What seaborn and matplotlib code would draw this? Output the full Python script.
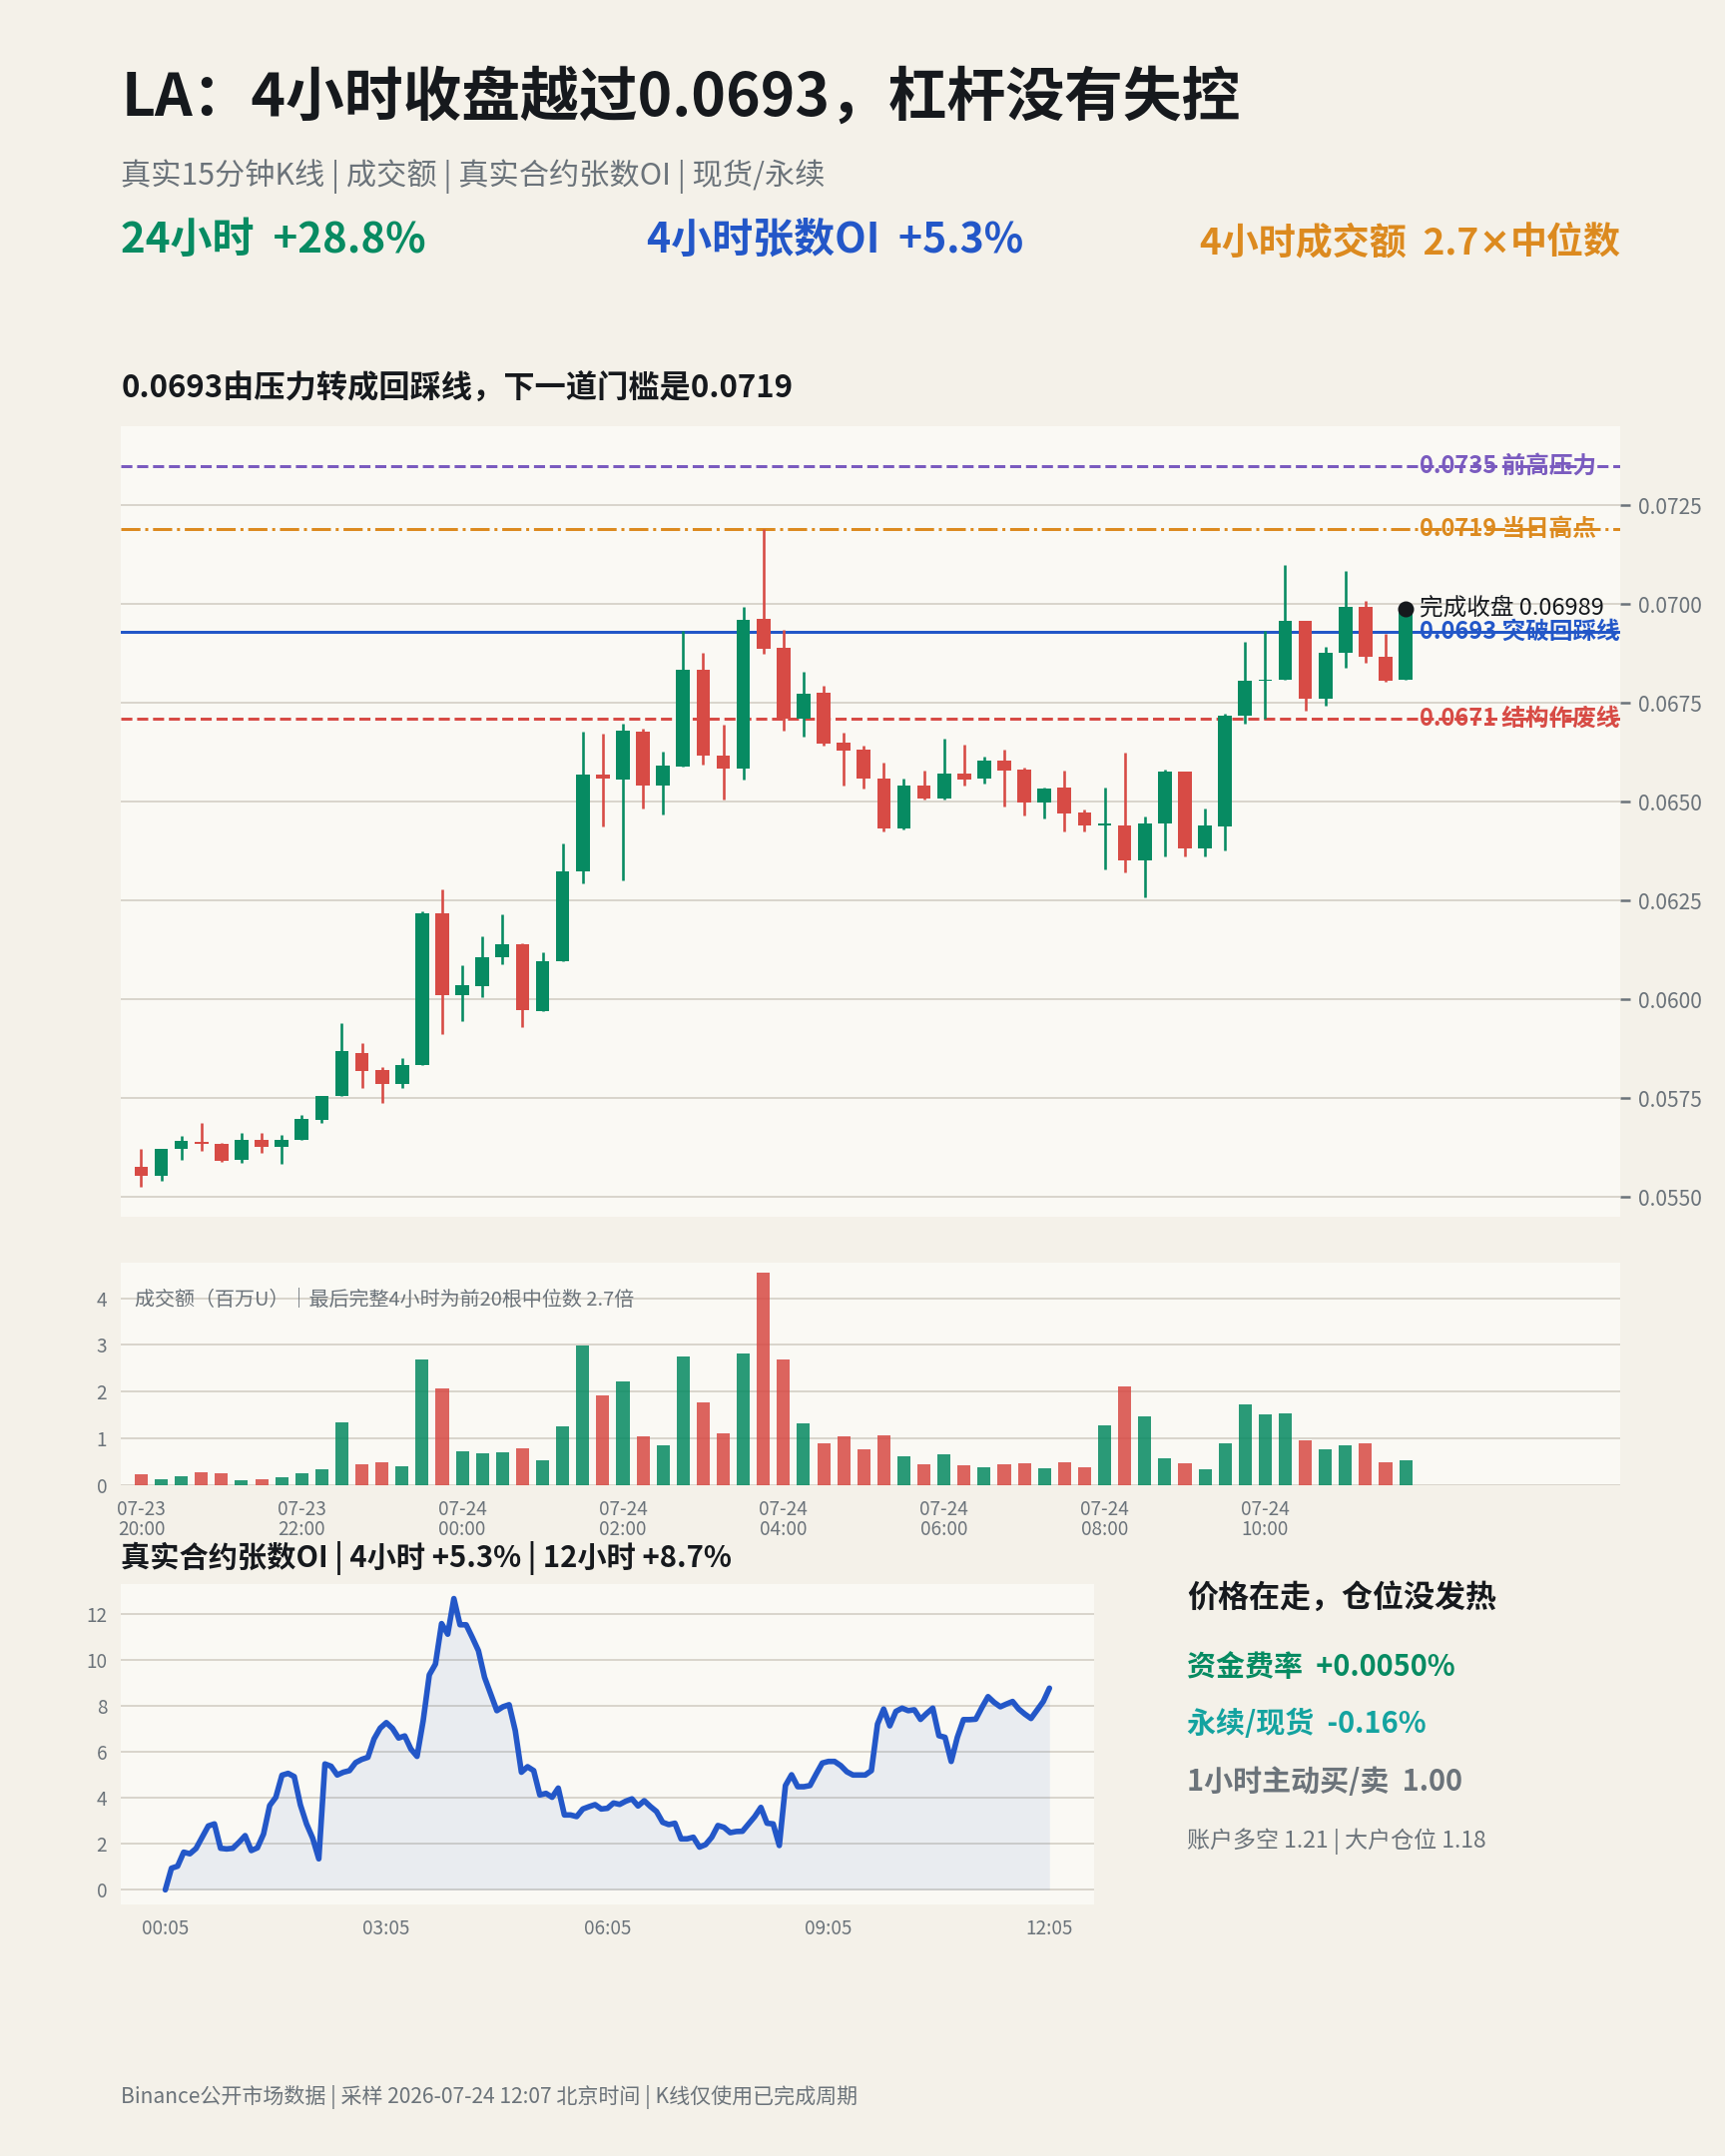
import numpy as np
import pandas as pd
import seaborn as sns
import matplotlib
matplotlib.use("Agg")
import matplotlib.pyplot as plt

# 15分钟K线 (07-23 20:00 起, 64根)
opens = [
    0.05577, 0.05553, 0.05621, 0.05640, 0.05635, 0.05594, 0.05645, 0.05626, 0.05644, 0.05696,
    0.05755, 0.05864, 0.05822, 0.05786, 0.05833, 0.06218, 0.06012, 0.06034, 0.06106, 0.06140,
    0.05971, 0.06096, 0.06324, 0.06569, 0.06557, 0.06677, 0.06540, 0.06590, 0.06833, 0.06616,
    0.06584, 0.06962, 0.06889, 0.06709, 0.06775, 0.06649, 0.06631, 0.06558, 0.06433, 0.06541,
    0.06508, 0.06571, 0.06559, 0.06604, 0.06581, 0.06499, 0.06536, 0.06472, 0.06441, 0.06441,
    0.06351, 0.06446, 0.06576, 0.06383, 0.06438, 0.06717, 0.06805, 0.06809, 0.06957, 0.06762,
    0.06876, 0.06994, 0.06868, 0.06809]
closes = [
    0.05553, 0.05622, 0.05643, 0.05635, 0.05591, 0.05645, 0.05626, 0.05645, 0.05698, 0.05756,
    0.05869, 0.05820, 0.05786, 0.05835, 0.06218, 0.06012, 0.06037, 0.06107, 0.06140, 0.05972,
    0.06097, 0.06324, 0.06568, 0.06558, 0.06679, 0.06540, 0.06591, 0.06833, 0.06616, 0.06585,
    0.06959, 0.06887, 0.06710, 0.06773, 0.06648, 0.06630, 0.06559, 0.06433, 0.06541, 0.06508,
    0.06571, 0.06557, 0.06604, 0.06580, 0.06499, 0.06533, 0.06471, 0.06441, 0.06446, 0.06351,
    0.06446, 0.06576, 0.06383, 0.06439, 0.06717, 0.06805, 0.06809, 0.06957, 0.06762, 0.06878,
    0.06994, 0.06868, 0.06807, 0.06989]
highs = [
    0.05622, 0.05623, 0.05656, 0.05687, 0.05638, 0.05663, 0.05663, 0.05658, 0.05708, 0.05757,
    0.05941, 0.05890, 0.05829, 0.05853, 0.06224, 0.06278, 0.06087, 0.06160, 0.06215, 0.06141,
    0.06120, 0.06394, 0.06677, 0.06672, 0.06698, 0.06686, 0.06626, 0.06932, 0.06876, 0.06694,
    0.06994, 0.07189, 0.06935, 0.06830, 0.06793, 0.06675, 0.06641, 0.06599, 0.06558, 0.06578,
    0.06659, 0.06644, 0.06614, 0.06631, 0.06586, 0.06536, 0.06578, 0.06481, 0.06537, 0.06625,
    0.06464, 0.06582, 0.06577, 0.06484, 0.06722, 0.06904, 0.06932, 0.07098, 0.06958, 0.06893,
    0.07083, 0.07008, 0.06926, 0.06989]
lows = [
    0.05526, 0.05540, 0.05594, 0.05616, 0.05590, 0.05587, 0.05613, 0.05584, 0.05644, 0.05687,
    0.05755, 0.05775, 0.05739, 0.05775, 0.05833, 0.05913, 0.05944, 0.06006, 0.06088, 0.05929,
    0.05971, 0.06096, 0.06293, 0.06437, 0.06302, 0.06484, 0.06469, 0.06590, 0.06595, 0.06506,
    0.06556, 0.06874, 0.06681, 0.06666, 0.06643, 0.06542, 0.06533, 0.06424, 0.06431, 0.06505,
    0.06505, 0.06542, 0.06547, 0.06489, 0.06466, 0.06459, 0.06424, 0.06426, 0.06330, 0.06322,
    0.06259, 0.06363, 0.06362, 0.06362, 0.06378, 0.06697, 0.06710, 0.06809, 0.06730, 0.06742,
    0.06840, 0.06852, 0.06804, 0.06809]
# 成交额 (百万U)
volumes = [
    0.24, 0.13, 0.18, 0.28, 0.26, 0.11, 0.13, 0.16, 0.26, 0.33,
    1.34, 0.45, 0.49, 0.41, 2.70, 2.06, 0.73, 0.69, 0.71, 0.79,
    0.54, 1.26, 2.98, 1.92, 2.21, 1.05, 0.86, 2.76, 1.77, 1.11,
    2.81, 4.54, 2.70, 1.32, 0.90, 1.05, 0.77, 1.07, 0.62, 0.45,
    0.66, 0.43, 0.39, 0.45, 0.47, 0.37, 0.49, 0.39, 1.28, 2.11,
    1.47, 0.58, 0.47, 0.33, 0.90, 1.72, 1.51, 1.53, 0.96, 0.77,
    0.86, 0.90, 0.49, 0.54]
# 合约张数OI 相对 00:05 的变化 (%), 5分钟
oi_pct = [
    0.00, 0.94, 1.03, 1.64, 1.57, 1.80, 2.29, 2.78, 2.87, 1.81,
    1.78, 1.81, 2.07, 2.36, 1.71, 1.83, 2.43, 3.67, 4.03, 4.99,
    5.07, 4.93, 3.70, 2.87, 2.25, 1.35, 5.48, 5.38, 5.00, 5.12,
    5.19, 5.54, 5.68, 5.77, 6.57, 7.04, 7.28, 7.03, 6.61, 6.70,
    6.13, 5.81, 7.36, 9.36, 9.83, 11.59, 11.13, 12.68, 11.54, 11.54,
    10.99, 10.41, 9.25, 8.52, 7.80, 7.97, 8.06, 6.93, 5.12, 5.36,
    5.19, 4.13, 4.20, 4.03, 4.43, 3.26, 3.26, 3.19, 3.52, 3.62,
    3.71, 3.52, 3.55, 3.78, 3.72, 3.86, 3.96, 3.65, 3.88, 3.63,
    3.41, 2.94, 2.84, 2.90, 2.22, 2.22, 2.29, 1.86, 1.97, 2.29,
    2.80, 2.72, 2.49, 2.54, 2.55, 2.87, 3.19, 3.59, 2.90, 2.87,
    1.93, 4.54, 5.01, 4.49, 4.49, 4.54, 5.04, 5.52, 5.59, 5.59,
    5.41, 5.14, 5.00, 5.00, 5.00, 5.19, 7.22, 7.87, 7.14, 7.77,
    7.91, 7.80, 7.84, 7.42, 7.68, 7.91, 6.71, 6.64, 5.59, 6.64,
    7.41, 7.41, 7.43, 7.94, 8.41, 8.16, 7.97, 8.09, 8.20, 7.87,
    7.65, 7.46, 7.83, 8.20, 8.78]

levels = [0.0735, 0.0719, 0.0693, 0.0671]
level_names = ['前高压力', '当日高点', '突破回踩线', '结构作废线']
last_close = 0.06989

sns.set_theme(style="white")
plt.rcParams['font.family'] = ['Noto Sans CJK SC', 'DejaVu Sans']
plt.rcParams['axes.unicode_minus'] = False

BG = '#f4f1e9'
PANEL = '#faf9f4'
GRID = '#d9d5cc'
GREEN = '#078b62'
RED = '#d74b45'
BLUE = '#2357c8'
ORANGE = '#dc8a1f'
PURPLE = '#7a5bbf'
TEAL = '#14a3a0'
GREY = '#6b737a'
DARK = '#16191d'

fig = plt.figure(figsize=(12, 15), dpi=144, facecolor=BG)
renderer = fig.canvas.get_renderer()


def text_right_parts(x_right, y, parts, **kw):
    # lay out text pieces right to left so one piece can use another font
    xr = x_right
    for txt, fam in reversed(parts):
        t = fig.text(xr, y, txt, ha='right', va='baseline', family=fam, **kw)
        bb = t.get_window_extent(renderer=renderer)
        xr = fig.transFigure.inverted().transform((bb.x0, 0))[0]


# ---- header texts
fig.text(0.0702, 0.9541, 'LA：4小时收盘越过0.0693，杠杆没有失控', fontsize=29.4,
         fontweight='bold', color=DARK, va='center')
fig.text(0.0702, 0.9184, '真实15分钟K线 | 成交额 | 真实合约张数OI | 现货/永续', fontsize=15.1,
         color=GREY, va='center')
fig.text(0.0702, 0.8884, '24小时  +28.8%', fontsize=21, fontweight='bold', color=GREEN, va='center')
fig.text(0.3748, 0.8884, '4小时张数OI  +5.3%', fontsize=20.5, fontweight='bold', color=BLUE, va='center')
text_right_parts(0.9394, 0.8822,
                 [('4小时成交额  2.7', 'Noto Sans CJK SC'), ('×', 'DejaVu Sans'),
                  ('中位数', 'Noto Sans CJK SC')],
                 fontsize=18.5, fontweight='bold', color=ORANGE)
fig.text(0.0702, 0.8202, '0.0693由压力转成回踩线，下一道门槛是0.0719', fontsize=15.6,
         fontweight='bold', color=DARK, va='center')

# ---- candles
x = np.arange(len(opens))
o = np.array(opens)
c = np.array(closes)
h = np.array(highs)
l = np.array(lows)
cols = np.where(c >= o, GREEN, RED)

ax_p = fig.add_axes([0.0702, 0.4356, 0.8692, 0.3667], facecolor=PANEL)
ax_p.vlines(x, l, h, colors=cols, lw=1.3, zorder=3)
body_low = np.minimum(o, c)
body_h = np.maximum(np.abs(c - o), 0.00004)
ax_p.bar(x, body_h, bottom=body_low, width=0.68, color=cols, linewidth=0, zorder=4)

level_colors = [PURPLE, ORANGE, BLUE, RED]
level_styles = ['--', '-.', '-', '--']
for lv, name, col, ls in zip(levels, level_names, level_colors, level_styles):
    ax_p.axhline(lv, color=col, ls=ls, lw=1.5, zorder=2)
    ax_p.text(x[-1] + 0.7, lv, f'{lv:.4f} {name}', color=col, fontsize=11.8,
              fontweight='bold', va='center', ha='left', zorder=5)
ax_p.plot([x[-1]], [last_close], 'o', color=DARK, ms=7, zorder=6)
ax_p.text(x[-1] + 0.7, last_close, f'完成收盘 {last_close:.5f}', color=DARK, fontsize=11.8,
          fontweight='medium', va='center', ha='left', zorder=6)

ax_p.set_xlim(-1, 73.7)
ax_p.set_ylim(0.0545, 0.0745)
yt = np.arange(0.0550, 0.07251, 0.0025)
ax_p.set_yticks(yt)
ax_p.set_yticklabels([f'{v:.4f}' for v in yt])
ax_p.yaxis.tick_right()
ax_p.tick_params(axis='y', length=5, color=GREY, labelcolor=GREY, labelsize=10.5, pad=4)
ax_p.set_xticks([])
ax_p.grid(axis='y', color=GRID, lw=1)
for s in ax_p.spines.values():
    s.set_visible(False)

# ---- volume
ax_v = fig.add_axes([0.0702, 0.3112, 0.8692, 0.1033], facecolor=PANEL)
ax_v.bar(x, volumes, width=0.65, color=cols, alpha=0.86, linewidth=0, zorder=3)
ax_v.set_xlim(-1, 73.7)
ax_v.set_ylim(0, 4.77)
ax_v.set_yticks([0, 1, 2, 3, 4])
times = pd.date_range('2026-07-23 20:00', periods=len(opens), freq='15min')
tpos = x[::8]
ax_v.set_xticks(tpos)
ax_v.set_xticklabels([times[i].strftime('%m-%d\n%H:%M') for i in tpos], linespacing=0.95)
ax_v.tick_params(axis='both', length=4, color=GREY, labelcolor=GREY, labelsize=9.5, pad=3)
ax_v.grid(axis='y', color=GRID, lw=1, zorder=0)
for s in ax_v.spines.values():
    s.set_visible(False)
ax_v.text(0.009, 0.83, '成交额（百万U）｜最后完整4小时为前20根中位数 2.7倍',
          transform=ax_v.transAxes, fontsize=10, color=GREY, va='center')

# ---- OI
fig.text(0.0702, 0.2774, '真实合约张数OI | 4小时 +5.3% | 12小时 +8.7%', fontsize=14.6,
         fontweight='bold', color=DARK, va='center')
oi_times = pd.date_range('2026-07-24 00:05', periods=len(oi_pct), freq='5min')
df_oi = pd.DataFrame({'i': np.arange(len(oi_pct)), 'oi': oi_pct})
ax_oi = fig.add_axes([0.0702, 0.1167, 0.5638, 0.1486], facecolor=PANEL)
ax_oi.fill_between(df_oi['i'], df_oi['oi'], 0, color=BLUE, alpha=0.08, lw=0)
sns.lineplot(data=df_oi, x='i', y='oi', ax=ax_oi, color=BLUE, lw=2.8)
ax_oi.set_xlabel('')
ax_oi.set_ylabel('')
ax_oi.set_yticks(np.arange(0, 13, 2))
op = [0, 36, 72, 108, 144]
ax_oi.set_xticks(op)
ax_oi.set_xticklabels([oi_times[i].strftime('%H:%M') for i in op])
ax_oi.tick_params(axis='both', length=4, color=GREY, labelcolor=GREY, labelsize=9.5, pad=3)
ax_oi.grid(axis='y', color=GRID, lw=1)
for s in ax_oi.spines.values():
    s.set_visible(False)

# ---- right side notes
fig.text(0.6882, 0.2589, '价格在走，仓位没发热', fontsize=15.5, fontweight='bold', color=DARK, va='center')
fig.text(0.6882, 0.2270, '资金费率  +0.0050%', fontsize=14.5, fontweight='bold', color=GREEN, va='center')
fig.text(0.6882, 0.2003, '永续/现货  -0.16%', fontsize=14.5, fontweight='bold', color=TEAL, va='center')
fig.text(0.6882, 0.1735, '1小时主动买/卖  1.00', fontsize=14.5, fontweight='bold', color=GREY, va='center')
fig.text(0.6882, 0.1460, '账户多空 1.21 | 大户仓位 1.18', fontsize=11.5, color=GREY, va='center')

fig.text(0.0702, 0.0274, 'Binance公开市场数据 | 采样 2026-07-24 12:07 北京时间 | K线仅使用已完成周期',
         fontsize=10.5, color=GREY, va='center')

fig.savefig('out.png', dpi=144, facecolor=BG)
